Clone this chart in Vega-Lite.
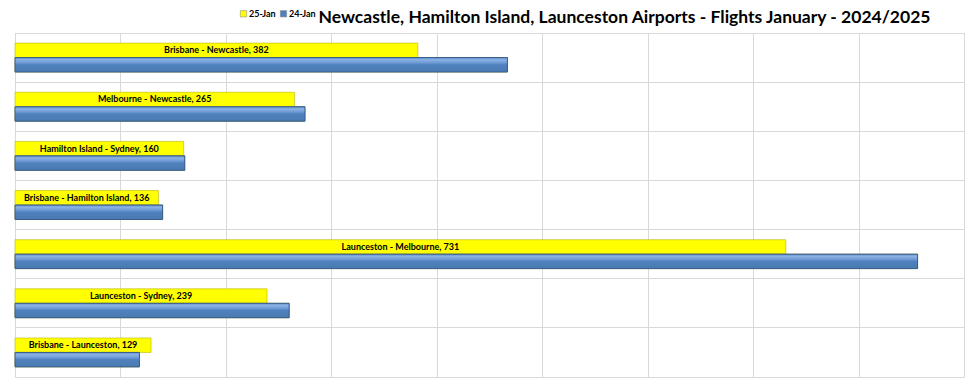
{
  "$schema": "https://vega.github.io/schema/vega-lite/v6.json",
  "width": 949,
  "height": 344,
  "autosize": {"type": "none"},
  "padding": {"left": 15, "top": 33, "right": 16, "bottom": 1},
  "background": "white",
  "title": {
    "text": "Newcastle, Hamilton Island, Launceston Airports - Flights January - 2024/2025",
    "anchor": "start",
    "dx": 304,
    "dy": 17,
    "fontSize": 17.5,
    "font": "Lato",
    "fontWeight": "bold",
    "color": "black",
    "offset": 0
  },
  "config": {
    "view": {"stroke": "#d9d9d9", "strokeWidth": 1}
  },
  "data": {
    "values": [
      {"route": "Brisbane - Newcastle", "period": "25-Jan", "value": 382, "label": "Brisbane - Newcastle, 382"},
      {"route": "Brisbane - Newcastle", "period": "24-Jan", "value": 467, "label": ""},
      {"route": "Melbourne - Newcastle", "period": "25-Jan", "value": 265, "label": "Melbourne - Newcastle, 265"},
      {"route": "Melbourne - Newcastle", "period": "24-Jan", "value": 275, "label": ""},
      {"route": "Hamilton Island - Sydney", "period": "25-Jan", "value": 160, "label": "Hamilton Island - Sydney, 160"},
      {"route": "Hamilton Island - Sydney", "period": "24-Jan", "value": 161, "label": ""},
      {"route": "Brisbane - Hamilton Island", "period": "25-Jan", "value": 136, "label": "Brisbane - Hamilton Island, 136"},
      {"route": "Brisbane - Hamilton Island", "period": "24-Jan", "value": 140, "label": ""},
      {"route": "Launceston - Melbourne", "period": "25-Jan", "value": 731, "label": "Launceston - Melbourne, 731"},
      {"route": "Launceston - Melbourne", "period": "24-Jan", "value": 856, "label": ""},
      {"route": "Launceston - Sydney", "period": "25-Jan", "value": 239, "label": "Launceston - Sydney, 239"},
      {"route": "Launceston - Sydney", "period": "24-Jan", "value": 260, "label": ""},
      {"route": "Brisbane - Launceston", "period": "25-Jan", "value": 129, "label": "Brisbane - Launceston, 129"},
      {"route": "Brisbane - Launceston", "period": "24-Jan", "value": 118, "label": ""}
    ]
  },
  "encoding": {
    "y": {
      "field": "route",
      "type": "nominal",
      "sort": ["Brisbane - Newcastle", "Melbourne - Newcastle", "Hamilton Island - Sydney", "Brisbane - Hamilton Island", "Launceston - Melbourne", "Launceston - Sydney", "Brisbane - Launceston"],
      "scale": {"paddingInner": 0, "paddingOuter": 0},
      "axis": {"bandPosition": 0, "grid": true, "gridColor": "#d9d9d9", "labels": false, "ticks": false, "domain": false, "title": null}
    },
    "yOffset": {
      "field": "period",
      "type": "nominal",
      "scale": {"domain": ["25-Jan", "24-Jan"], "paddingInner": 0, "paddingOuter": 0.7}
    }
  },
  "layer": [
    {
      "mark": {"type": "bar", "stroke": "#b5b500", "strokeWidth": 0.6},
      "encoding": {
        "x": {
          "field": "value",
          "type": "quantitative",
          "scale": {"domain": [0, 900], "nice": false},
          "axis": {"values": [0, 100, 200, 300, 400, 500, 600, 700, 800, 900], "grid": true, "gridColor": "#d9d9d9", "labels": false, "ticks": false, "domain": false, "title": null}
        },
        "color": {
          "field": "period",
          "type": "nominal",
          "scale": {"domain": ["25-Jan", "24-Jan"], "range": ["#ffff00", "#4f81bd"]},
          "legend": {
            "orient": "none",
            "legendX": 224,
            "legendY": -24,
            "direction": "horizontal",
            "title": null,
            "symbolType": "square",
            "symbolSize": 40,
            "symbolStrokeColor": "#7f7f7f",
            "symbolStrokeWidth": 0.5,
            "labelFont": "Lato",
            "labelFontWeight": "bold",
            "labelFontSize": 9,
            "labelColor": "black",
            "labelOffset": 1,
            "columnPadding": 3
          }
        }
      }
    },
    {
      "transform": [{"filter": "datum.period === '24-Jan'"}],
      "mark": {
        "type": "bar",
        "fill": {
          "gradient": "linear",
          "x1": 0, "y1": 0, "x2": 0, "y2": 1,
          "stops": [
            {"offset": 0, "color": "#5d8cc8"},
            {"offset": 0.15, "color": "#8cb2e6"},
            {"offset": 0.35, "color": "#6f9bd6"},
            {"offset": 0.5, "color": "#4f81bd"},
            {"offset": 1, "color": "#4a7ab3"}
          ]
        },
        "stroke": "#385d8a",
        "strokeWidth": 1
      },
      "encoding": {
        "x": {"field": "value", "type": "quantitative", "scale": {"domain": [0, 900], "nice": false}, "axis": null}
      }
    },
    {
      "transform": [{"filter": "datum.period === '25-Jan'"}],
      "mark": {"type": "text", "font": "Lato", "fontWeight": "bold", "fontSize": 9, "color": "black", "align": "center", "baseline": "middle"},
      "encoding": {
        "x": {"field": "value", "type": "quantitative", "scale": {"domain": [0, 1800], "nice": false}, "axis": null},
        "text": {"field": "label"}
      }
    }
  ],
  "resolve": {"scale": {"x": "independent"}}
}
